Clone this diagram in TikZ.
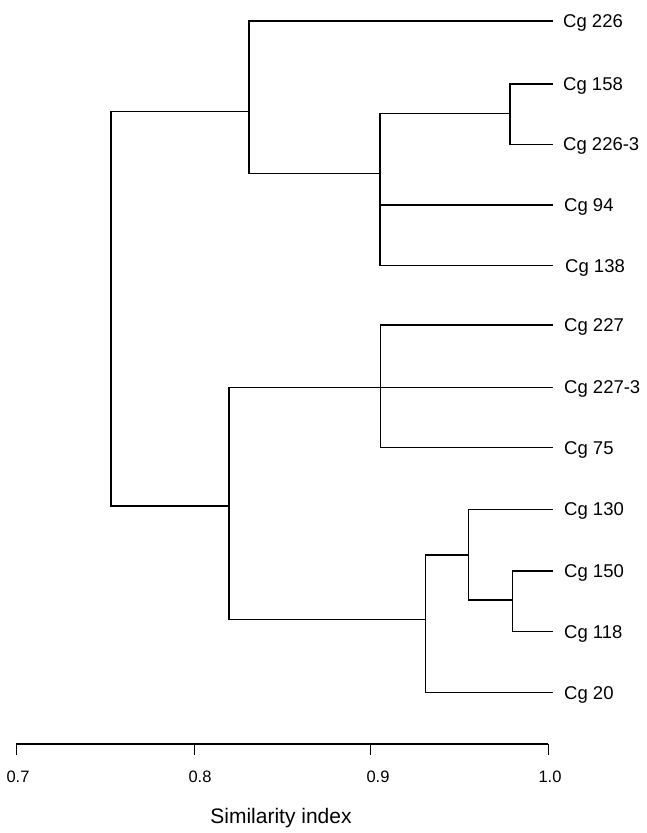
\documentclass[tikz,border=0pt]{standalone}
\usepackage{fontspec}
\setmainfont{Liberation Sans}
\begin{document}
\begin{tikzpicture}[x=1pt,y=-1pt,
  branch/.style={line width=1.3pt, line cap=rect},
  leaflabel/.style={anchor=base west, inner sep=0pt, font=\fontsize{18.5}{20}\selectfont},
  ticklabel/.style={anchor=base, inner sep=0pt, font=\fontsize{16.5}{18}\selectfont},
  axistitle/.style={anchor=base, inner sep=0pt, font=\fontsize{21}{24}\selectfont}]
\useasboundingbox (0,0) rectangle (646,833);

% internal nodes of the tree (x = merge level, y = incoming branch)
\coordinate (root) at (111,506);
\coordinate (A) at (249,111.5);
\coordinate (C) at (380,173.8);
\coordinate (D) at (510,113.3);
\coordinate (B) at (229,506);
\coordinate (E) at (380.7,387.3);
\coordinate (F) at (425.7,619.3);
\coordinate (G) at (468.3,555);
\coordinate (H) at (512.3,600);

% leaf tips
\coordinate (t226) at (552,21);
\coordinate (t158) at (552,84);
\coordinate (t2263) at (552,144.3);
\coordinate (t94) at (552,205);
\coordinate (t138) at (552,265.7);
\coordinate (t227) at (552,325);
\coordinate (t2273) at (552,387.3);
\coordinate (t75) at (552,447.7);
\coordinate (t130) at (552,509.3);
\coordinate (t150) at (552,571);
\coordinate (t118) at (552,631.7);
\coordinate (t20) at (552,692.7);

% leaf labels
\node[leaflabel] (l226)  at (563,27.6)  {Cg 226};
\node[leaflabel] (l158)  at (563,90.6)  {Cg 158};
\node[leaflabel] (l2263) at (563,150.9) {Cg 226-3};
\node[leaflabel] (l94)   at (564,211.6) {Cg 94};
\node[leaflabel] (l138)  at (565,272.3) {Cg 138};
\node[leaflabel] (l227)  at (564,331.6) {Cg 227};
\node[leaflabel] (l2273) at (564,393.9) {Cg 227-3};
\node[leaflabel] (l75)   at (564,454.3) {Cg 75};
\node[leaflabel] (l130)  at (564,515.9) {Cg 130};
\node[leaflabel] (l150)  at (564,577.6) {Cg 150};
\node[leaflabel] (l118)  at (564,638.3) {Cg 118};
\node[leaflabel] (l20)   at (564,699.3) {Cg 20};

% branches
\draw[branch] (root) |- (A);
\draw[branch] (root) |- (B);
\draw[branch] (A) |- (t226);
\draw[branch] (A) |- (C);
\draw[branch] (C) |- (D);
\draw[branch] (C) |- (t94);
\draw[branch] (C) |- (t138);
\draw[branch] (D) |- (t158);
\draw[branch] (D) |- (t2263);
\draw[branch] (B) |- (E);
\draw[branch] (B) |- (F);
\draw[branch] (E) |- (t227);
\draw[branch] (E) |- (t2273);
\draw[branch] (E) |- (t75);
\draw[branch] (F) |- (G);
\draw[branch] (F) |- (t20);
\draw[branch] (G) |- (t130);
\draw[branch] (G) |- (H);
\draw[branch] (H) |- (t150);
\draw[branch] (H) |- (t118);

% similarity axis
\coordinate (a0) at (16,744);
\coordinate (a1) at (548,744);
\draw[line width=1.3pt] (a0) -- (a1);
\foreach \x in {16,194,370,548}
  \draw[line width=0.7pt] (\x,744) -- (\x,755);
\node[ticklabel] (s07) at (18,782)  {0.7};
\node[ticklabel] (s08) at (200,782) {0.8};
\node[ticklabel] (s09) at (378,782) {0.9};
\node[ticklabel] (s10) at (550,782) {1.0};
\node[axistitle] (title) at (281,823) {Similarity index};
\end{tikzpicture}
\end{document}
